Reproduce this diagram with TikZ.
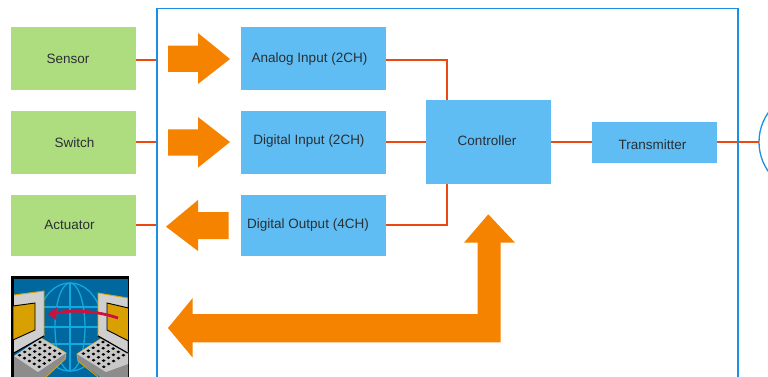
\documentclass[tikz,border=0pt]{standalone}
\usepackage{fontspec}
\setmainfont{Liberation Sans}
\definecolor{greenbox}{HTML}{AEDD7F}
\definecolor{bluebox}{HTML}{5FBDF3}
\definecolor{framec}{HTML}{1A8FE3}
\definecolor{wirered}{HTML}{EA4A10}
\definecolor{bigarrow}{HTML}{F58300}
\definecolor{txt}{HTML}{2A2F33}
\definecolor{ibg}{HTML}{00689F}
\definecolor{iglobe}{HTML}{12A8E0}
\definecolor{iyel}{HTML}{D8A000}
\definecolor{igrey}{HTML}{CFCFCF}
\definecolor{ikey}{HTML}{C8C8C8}
\definecolor{ibase}{HTML}{8C8C8C}
\definecolor{ired}{HTML}{D0103C}
\tikzset{
  x=1pt,y=-1pt,
  every node/.style={inner sep=0pt,outer sep=0pt,font=\fontsize{13.5}{15}\selectfont,text=txt},
  greenb/.style={fill=greenbox,draw=none,anchor=north west},
  blueb/.style={fill=bluebox,draw=none,anchor=north west},
  frameb/.style={draw=framec,line width=1.6pt,fill=none},
  wirel/.style={color=wirered,line width=1.6pt},
  fat/.style={fill=bigarrow,draw=none},
  lcd/.style={fill=iyel,draw=black,line width=0.9pt},
}
\begin{document}
\begin{tikzpicture}
\useasboundingbox (0,0) rectangle (768,377);
\node[greenb,minimum width=125pt,minimum height=63pt] (sensor) at (11,27) {};
\node[greenb,minimum width=125pt,minimum height=63pt] (switch) at (11,111) {};
\node[greenb,minimum width=125pt,minimum height=61pt] (actuator) at (11,195) {};
\node[blueb,minimum width=145pt,minimum height=63pt] (ain) at (241,27) {};
\node[blueb,minimum width=145pt,minimum height=63pt] (din) at (241,111) {};
\node[blueb,minimum width=145pt,minimum height=61pt] (dout) at (241,195) {};
\node[blueb,minimum width=125pt,minimum height=84pt] (ctrl) at (426,100) {};
\node[blueb,minimum width=125pt,minimum height=41pt] (tx) at (592,122) {};
\node at (68,59) {Sensor};
\node at (74.5,143) {Switch};
\node at (69.5,225) {Actuator};
\node at (309.5,59) {Analog Input (2CH)};
\node at (309,141.5) {Digital Input (2CH)};
\node at (308,225.5) {Digital Output (4CH)};
\node at (487,141) {Controller};
\node at (652.5,145) {Transmitter};
\begin{scope}
\clip (0,0) rectangle (768,377);
\node[draw=framec,line width=1.3pt,circle,minimum size=102pt,anchor=west] (cloud) at (759,142) {};
\node[minimum width=581pt,minimum height=420pt,anchor=north west] (frame) at (157,8.5) {};
\coordinate (ctopin) at (447,100);
\coordinate (cbotin) at (447,184);
\coordinate (w1) at ([yshift=-1.5pt]sensor.east);
\coordinate (w2) at ([yshift=0.5pt]switch.east);
\coordinate (w3) at ([yshift=0.5pt]actuator.east);
\coordinate (w4) at ([yshift=-1.5pt]ain.east);
\coordinate (w5) at ([yshift=0.5pt]din.east);
\coordinate (w6) at ([yshift=0.5pt]dout.east);
\coordinate (w8) at ([yshift=0.5pt]tx.east);
\draw[wirel] (w1) -- (w1 -| frame.west);
\draw[wirel] (w2) -- (w2 -| frame.west);
\draw[wirel] (w3) -- (w3 -| frame.west);
\draw[wirel] (w4) -| (ctopin);
\draw[wirel] (w5) -- (w5 -| ctrl.west);
\draw[wirel] (w6) -| (cbotin);
\draw[wirel] (ctrl.east) -- (ctrl.east -| tx.west);
\draw[wirel] (w8) -- (w8 -| cloud.west);
\draw[frameb] (frame.south west) -- (frame.north west) -- (frame.north east) -- (frame.south east);
\end{scope}
\fill[fat] (168,45.7) -- (198,45.7) -- (198,33) -- (230,59) -- (198,84) -- (198,72) -- (168,72) -- cycle;
\fill[fat] (168,129.3) -- (198,129.3) -- (198,117) -- (230,142) -- (198,167.7) -- (198,155.7) -- (168,155.7) -- cycle;
\fill[fat] (228.7,212) -- (198,212) -- (198,200) -- (166,226.7) -- (198,251) -- (198,239) -- (228.7,239) -- cycle;
\fill[fat] (168,328) -- (192.7,298) -- (192.7,314) -- (477.7,314) -- (477.7,242.7) -- (464,242.7) -- (488.3,214.3) -- (515,242.7) -- (500.7,242.7) -- (500.7,342.3) -- (192.7,342.3) -- (192.7,357.7) -- cycle;
% icon
\begin{scope}
\clip (11,276) rectangle (129,377);
\fill[black] (11,276) rectangle (129,377);
\fill[ibg] (14,278.5) rectangle (127.7,377);
\begin{scope}[draw=iglobe,line width=1.3pt]
\draw (70,327) ellipse (33 and 44);
\draw (70,327) ellipse (15 and 44);
\draw (70,283) -- (70,371);
\draw (37,327) -- (103,327);
\draw (42,307) -- (98,307);
\draw (42,344) -- (98,344);
\end{scope}
% left laptop
\fill[ibase] (14,356) -- (14,377) -- (46,377) -- (66,359) -- (66,353) -- cycle;
\draw[iyel,line width=0.9pt] (41,338) -- (66,353) -- (65,359) -- (46,377);
\fill[ikey] (41,338) -- (66,353) -- (38,372) -- (14,356) -- cycle;
\foreach \u in {0,1,2,3,4} \foreach \v in {0,1,2,3,4}
  \fill[black] ({40+\u*4.9-\v*5.1},{342+\u*2.9+\v*3.3}) ellipse (1.9 and 1.4);
\fill[igrey] (14,295) -- (44,291) -- (44,336) -- (14,353) -- cycle;
\draw[iyel,line width=0.9pt] (14,295) -- (44,291) -- (44,336);
\draw[black,line width=1.2pt] (44,336) -- (14,353);
\draw[lcd] (13,306) -- (35,303) -- (35,330) -- (13,340) -- cycle;
% right laptop
\fill[ibase] (128,352) -- (128,377) -- (100,377) -- (78,361) -- (77,354) -- cycle;
\draw[iyel,line width=0.9pt] (102,338) -- (77,354) -- (78,361) -- (98,377);
\fill[ikey] (102,338) -- (128,352) -- (128,364) -- (106,372) -- (77,354) -- cycle;
\foreach \u in {0,1,2,3,4} \foreach \v in {0,1,2,3,4}
  \fill[black] ({103-\u*4.9+\v*5.1},{342+\u*2.9+\v*3.3}) ellipse (1.9 and 1.4);
\fill[igrey] (127.7,298) -- (98,293) -- (98,336) -- (127.7,353) -- cycle;
\draw[iyel,line width=0.9pt] (127.7,298) -- (98,293) -- (98,336);
\draw[black,line width=1.2pt] (98,336) -- (127.7,353);
\draw[lcd] (128.5,308) -- (107,303) -- (107,330) -- (128.5,341) -- cycle;
% red arrow
\draw[ired,line width=2.8pt] (118,318) .. controls (100,312) and (78,309) .. (55,313);
\fill[ired] (48,314) -- (57,307) -- (56,320) -- cycle;
\end{scope}
\end{tikzpicture}
\end{document}
